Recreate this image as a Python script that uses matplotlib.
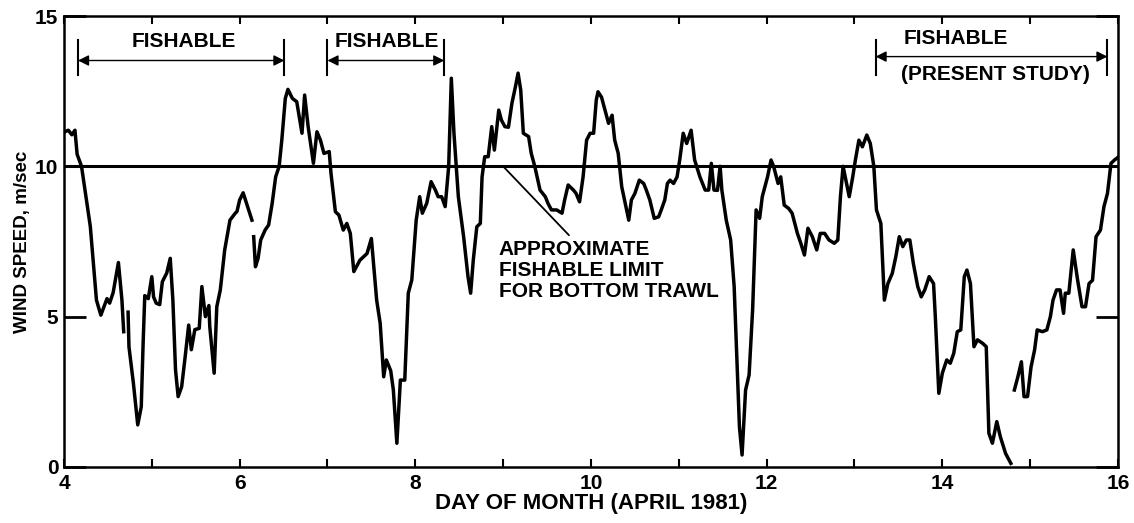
import numpy as np
import matplotlib
matplotlib.use("Agg")
import matplotlib.pyplot as plt

plt.rcParams['font.family'] = ['Liberation Sans', 'DejaVu Sans']
plt.rcParams['font.weight'] = 'bold'
plt.rcParams['axes.labelweight'] = 'bold'

nan = np.nan

# day of month, wind speed (m/s); nan = gap in the record
day = [4.01, 4.05, 4.09, 4.125, 4.15, 4.2, 4.3, 4.37, 4.42, 4.49, 4.52, 4.56, 4.62, 4.66, 4.68, nan,
       4.73, 4.74, 4.79, 4.84, 4.88, 4.9, 4.92, 4.96, 5.0, 5.02, 5.05, 5.09, 5.12, 5.17, 5.21, 5.24,
       5.27, 5.3, 5.34, 5.38, 5.42, 5.45, 5.49, 5.54, 5.57, 5.61, 5.65, 5.66, 5.71, 5.74, 5.78, 5.83,
       5.89, 5.95, 5.97, 6.0, 6.04, 6.09, 6.14, nan,
       6.16, 6.18, 6.21, 6.24, 6.29, 6.33, 6.37, 6.41, 6.45, 6.48, 6.52, 6.55, 6.6, 6.65, 6.71, 6.74,
       6.78, 6.84, 6.88, 6.92, 6.96, 7.02, 7.04, 7.09, 7.13, 7.18, 7.22, 7.26, 7.3, 7.37, 7.45, 7.5,
       7.56, 7.6, 7.64, 7.67, 7.72, 7.75, 7.79, 7.83, 7.88, 7.92, 7.96, 8.01, 8.05, 8.08, 8.13, 8.18,
       8.23, 8.26, 8.30, 8.34, 8.38, 8.41, 8.44, 8.49, 8.55, 8.6, 8.63, 8.66, 8.7, 8.74, 8.76, 8.79,
       8.83, 8.87, 8.9, 8.93, 8.95, 8.98, 9.02, 9.06, 9.1, 9.14, 9.17, 9.2, 9.23, 9.29, 9.32, 9.36,
       9.42, 9.48, 9.51, 9.55, 9.61, 9.67, 9.7, 9.74, 9.8, 9.83, 9.87, 9.91, 9.95, 9.99, 10.03, 10.06,
       10.08, 10.12, 10.16, 10.2, 10.24, 10.27, 10.31, 10.35, 10.39, 10.43, 10.46, 10.5, 10.55, 10.6,
       10.63, 10.67, 10.72, 10.77, 10.8, 10.84, 10.87, 10.9, 10.94, 10.98, 11.01, 11.05, 11.09, 11.14,
       11.18, 11.24, 11.3, 11.34, 11.37, 11.4, 11.44, 11.47, 11.49, 11.54, 11.59, 11.63, 11.69, 11.72,
       11.76, 11.8, 11.84, 11.88, 11.92, 11.95, 12.01, 12.05, 12.08, 12.13, 12.16, 12.2, 12.25, 12.29,
       12.35, 12.39, 12.43, 12.47, 12.52, 12.57, 12.61, 12.66, 12.71, 12.77, 12.81, 12.84, 12.87, 12.91,
       12.94, 12.98, 13.01, 13.05, 13.09, 13.14, 13.18, 13.22, 13.25, 13.3, 13.34, 13.38, 13.43, 13.47,
       13.51, 13.55, 13.59, 13.63, 13.67, 13.72, 13.76, 13.8, 13.85, 13.9, 13.92, 13.96, 14.0, 14.05,
       14.09, 14.13, 14.17, 14.21, 14.25, 14.28, 14.32, 14.36, 14.4, 14.46, 14.5, 14.53, 14.57, 14.62,
       14.66, 14.72, 14.78, nan,
       14.82, 14.86, 14.9, 14.93, 14.97, 15.01, 15.05, 15.08, 15.14, 15.19, 15.23, 15.26, 15.3, 15.34,
       15.38, 15.4, 15.44, 15.49, 15.54, 15.59, 15.63, 15.67, 15.71, 15.75, 15.8, 15.84, 15.88, 15.92,
       15.96, 16.0]
speed = [11.15, 11.2, 11.05, 11.2, 10.4, 10.0, 8.0, 5.55, 5.05, 5.6, 5.45, 5.8, 6.8, 5.55, 4.5, nan,
         5.15, 4.0, 2.8, 1.4, 2.0, 4.0, 5.7, 5.6, 6.33, 5.66, 5.45, 5.4, 6.16, 6.45, 6.94, 5.55,
         3.23, 2.34, 2.67, 3.67, 4.72, 3.9, 4.57, 4.61, 6.0, 5.0, 5.37, 4.67, 3.12, 5.33, 5.89, 7.22,
         8.21, 8.44, 8.5, 8.88, 9.12, 8.66, 8.21, nan,
         7.66, 6.66, 6.94, 7.55, 7.88, 8.05, 8.76, 9.65, 10.0, 10.87, 12.26, 12.56, 12.26, 12.15, 11.1, 12.37,
         11.32, 10.1, 11.15, 10.87, 10.43, 10.49, 9.77, 8.49, 8.38, 7.88, 8.1, 7.77, 6.5, 6.88, 7.1, 7.6,
         5.55, 4.78, 3.0, 3.56, 3.2, 2.56, 0.79, 2.89, 2.89, 5.78, 6.22, 8.21, 8.99, 8.44, 8.77, 9.49,
         9.2, 8.99, 8.99, 8.66, 10.0, 12.93, 11.1, 8.99, 7.66, 6.33, 5.78, 6.88, 7.99, 8.1, 9.65, 10.32,
         10.32, 11.32, 10.54, 11.32, 11.87, 11.54, 11.32, 11.3, 12.1, 12.65, 13.1, 12.54, 11.1, 10.99, 10.43, 10.0,
         9.21, 8.99, 8.77, 8.55, 8.55, 8.44, 8.88, 9.38, 9.21, 9.1, 8.82, 9.65, 10.87, 11.1, 11.1, 12.2,
         12.48, 12.3, 11.87, 11.43, 11.7, 10.87, 10.43, 9.32, 8.77, 8.21, 8.88, 9.1, 9.54, 9.43,
         9.21, 8.88, 8.27, 8.32, 8.55, 8.88, 9.43, 9.54, 9.43, 9.65, 10.21, 11.1, 10.76, 11.2,
         10.21, 9.65, 9.21, 9.21, 10.1, 9.21, 9.2, 10.0, 9.21, 8.21, 7.55, 6.0, 1.34, 0.4,
         2.56, 3.06, 5.22, 8.55, 8.27, 8.99, 9.65, 10.21, 9.99, 9.43, 9.65, 8.71, 8.6, 8.44,
         7.77, 7.43, 7.05, 7.94, 7.66, 7.22, 7.77, 7.77, 7.55, 7.44, 7.55, 8.99, 10.0, 9.43,
         8.99, 9.65, 10.21, 10.87, 10.65, 11.04, 10.76, 10.0, 8.55, 8.1, 5.55, 6.1, 6.44, 6.99,
         7.66, 7.33, 7.55, 7.55, 6.77, 6.0, 5.66, 5.89, 6.33, 6.1, 5.0, 2.45, 3.12, 3.56,
         3.45, 3.78, 4.5, 4.56, 6.33, 6.55, 6.1, 4.0, 4.23, 4.11, 4.0, 1.12, 0.79, 1.51,
         1.01, 0.45, 0.12, nan,
         2.56, 3.0, 3.5, 2.34, 2.34, 3.33, 3.89, 4.56, 4.5, 4.56, 5.0, 5.55, 5.89, 5.89,
         5.11, 5.78, 5.78, 7.22, 6.22, 5.33, 5.33, 6.1, 6.21, 7.66, 7.88, 8.66, 9.1, 10.1,
         10.21, 10.3]

fish_limit = 10
fish_start = [4.16, 7.0, 13.24]
fish_end = [6.51, 8.33, 15.88]
fish_labels = ["FISHABLE", "FISHABLE", "FISHABLE"]

fig = plt.figure(figsize=(11.34, 5.23), dpi=100)
ax = fig.add_axes([0.0564, 0.1071, 0.9295, 0.8623])

ax.plot(day, speed, color='black', lw=2.5)
ax.axhline(fish_limit, color='black', lw=2.2)

ax.set_xlim(4, 16)
ax.set_ylim(0, 15)
ax.set_xticks([4, 6, 8, 10, 12, 14, 16])
ax.set_xticks([5, 7, 9, 11, 13, 15], minor=True)
ax.set_yticks([0, 5, 10, 15])
ax.tick_params(axis='x', which='both', direction='in', length=6, width=1.5,
               top=True, labelsize=15, pad=5)
ax.tick_params(axis='y', direction='in', length=16, width=2, right=True,
               labelsize=15, pad=4)
for s in ax.spines.values():
    s.set_linewidth(1.8)

ax.set_xlabel("DAY OF MONTH (APRIL 1981)", fontsize=16, labelpad=0)
ax.set_ylabel("WIND SPEED, m/sec", fontsize=13.5, labelpad=3)

# fishable periods
arrow_y = [13.52, 13.52, 13.65]
for i in range(3):
    x0, x1 = fish_start[i], fish_end[i]
    for xx in (x0, x1):
        ax.plot([xx, xx], [13.05, 14.2], color='black', lw=1.5)
    ax.annotate("", xy=(x1, arrow_y[i]), xytext=(x0, arrow_y[i]),
                arrowprops=dict(arrowstyle='<|-|>', color='black', lw=1.0,
                                mutation_scale=16, shrinkA=0, shrinkB=0))
ax.text(5.36, 14.15, fish_labels[0], ha='center', va='center', fontsize=15)
ax.text(7.67, 14.15, fish_labels[1], ha='center', va='center', fontsize=15)
ax.text(14.15, 14.26, fish_labels[2], ha='center', va='center', fontsize=15)
ax.text(14.61, 13.04, "(PRESENT STUDY)", ha='center', va='center', fontsize=15)

ax.annotate("APPROXIMATE\nFISHABLE LIMIT\nFOR BOTTOM TRAWL", xy=(9.0, fish_limit),
            xytext=(8.95, 7.55), ha='left', va='top', fontsize=15, linespacing=1.12,
            arrowprops=dict(arrowstyle='-', color='black', lw=1.3,
                            relpos=(0.34, 1.0), shrinkA=2, shrinkB=0))

fig.savefig("out.png", dpi=100)
